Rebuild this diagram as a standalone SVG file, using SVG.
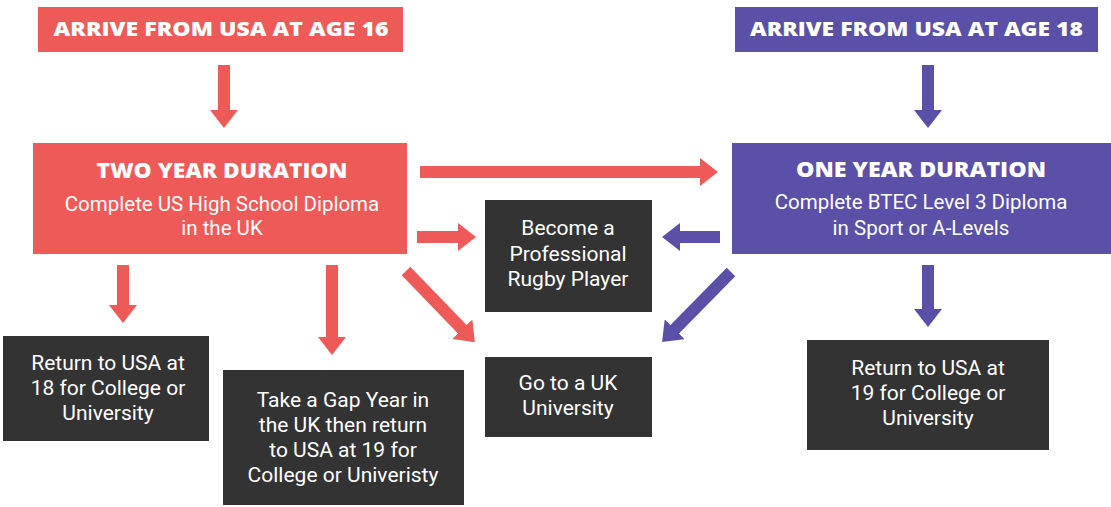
<svg xmlns="http://www.w3.org/2000/svg" width="1111" height="507" viewBox="0 0 1111 507">
  <defs>
    <style>
      .red { fill: #EE5A58; }
      .blue { fill: #5A50A8; }
      .dark { fill: #333333; }
      .hdr { font-family: "Open Sans", "Liberation Sans", sans-serif; font-weight: 800; font-size: 20px; fill: #ffffff; text-anchor: middle; }
      .ttl { font-family: "Open Sans", "Liberation Sans", sans-serif; font-weight: 800; font-size: 21px; fill: #ffffff; text-anchor: middle; }
      .sub { font-family: Roboto, "Liberation Sans", sans-serif; font-size: 20.5px; fill: #ffffff; text-anchor: middle; }
      .box { font-family: Roboto, "Liberation Sans", sans-serif; font-size: 21px; fill: #ffffff; text-anchor: middle; }
      .rl { stroke: #EE5A58; stroke-width: 12; fill: none; marker-end: url(#ah-red); }
      .bl { stroke: #5A50A8; stroke-width: 12; fill: none; marker-end: url(#ah-blue); }
    </style>
    <marker id="ah-red" viewBox="0 0 18 28" refX="1" refY="14" markerWidth="18" markerHeight="28" markerUnits="userSpaceOnUse" orient="auto">
      <path d="M0,0 L18,14 L0,28 Z" fill="#EE5A58"/>
    </marker>
    <marker id="ah-blue" viewBox="0 0 18 28" refX="1" refY="14" markerWidth="18" markerHeight="28" markerUnits="userSpaceOnUse" orient="auto">
      <path d="M0,0 L18,14 L0,28 Z" fill="#5A50A8"/>
    </marker>
  </defs>
  <rect width="1111" height="507" fill="#ffffff"/>

  <g id="connectors">
    <line class="rl" x1="224" y1="65" x2="224" y2="111"/>
    <line class="bl" x1="928" y1="65" x2="928" y2="111"/>
    <line class="rl" x1="420" y1="172" x2="701" y2="172"/>
    <line class="rl" x1="417" y1="237" x2="459" y2="237"/>
    <line class="bl" x1="720" y1="237" x2="679" y2="237"/>
    <line class="rl" x1="406" y1="271" x2="463" y2="330"/>
    <line class="bl" x1="731" y1="272" x2="674" y2="330"/>
    <line class="rl" x1="123" y1="265" x2="123" y2="306"/>
    <line class="rl" x1="332" y1="265" x2="332" y2="338"/>
    <line class="bl" x1="928" y1="265" x2="928" y2="310"/>
  </g>

  <g id="arrive16">
    <rect class="red" x="38" y="7" width="365" height="45"/>
    <text class="hdr" x="221" y="36" textLength="335" lengthAdjust="spacingAndGlyphs">ARRIVE FROM USA AT AGE 16</text>
  </g>

  <g id="arrive18">
    <rect class="blue" x="735" y="7" width="363" height="45"/>
    <text class="hdr" x="916.5" y="36" textLength="333" lengthAdjust="spacingAndGlyphs">ARRIVE FROM USA AT AGE 18</text>
  </g>

  <g id="twoyear">
    <rect class="red" x="33" y="143" width="374" height="111"/>
    <text class="ttl" x="222" y="178" textLength="251" lengthAdjust="spacingAndGlyphs">TWO YEAR DURATION</text>
    <text class="sub" x="222" y="211">Complete US High School Diploma</text>
    <text class="sub" x="222" y="235">in the UK</text>
  </g>

  <g id="oneyear">
    <rect class="blue" x="732" y="143" width="379" height="111"/>
    <text class="ttl" x="921" y="177" textLength="250" lengthAdjust="spacingAndGlyphs">ONE YEAR DURATION</text>
    <text class="sub" x="921" y="209">Complete BTEC Level 3 Diploma</text>
    <text class="sub" x="921" y="235">in Sport or A-Levels</text>
  </g>

  <g id="rugby">
    <rect class="dark" x="485" y="200" width="167" height="112"/>
    <text class="box" x="568" y="235">Become a</text>
    <text class="box" x="568" y="261">Professional</text>
    <text class="box" x="568" y="286">Rugby Player</text>
  </g>

  <g id="ukuni">
    <rect class="dark" x="485" y="357" width="167" height="80"/>
    <text class="box" x="568" y="390">Go to a UK</text>
    <text class="box" x="568" y="415">University</text>
  </g>

  <g id="return18">
    <rect class="dark" x="3" y="336" width="206" height="105"/>
    <text class="box" x="108" y="370">Return to USA at</text>
    <text class="box" x="108" y="395">18 for College or</text>
    <text class="box" x="108" y="420">University</text>
  </g>

  <g id="gapyear">
    <rect class="dark" x="223" y="370" width="241" height="135"/>
    <text class="box" x="343" y="407">Take a Gap Year in</text>
    <text class="box" x="343" y="432">the UK then return</text>
    <text class="box" x="343" y="457">to USA at 19 for</text>
    <text class="box" x="343" y="482">College or Univeristy</text>
  </g>

  <g id="return19">
    <rect class="dark" x="807" y="340" width="242" height="110"/>
    <text class="box" x="928" y="375">Return to USA at</text>
    <text class="box" x="928" y="400">19 for College or</text>
    <text class="box" x="928" y="425">University</text>
  </g>
</svg>
